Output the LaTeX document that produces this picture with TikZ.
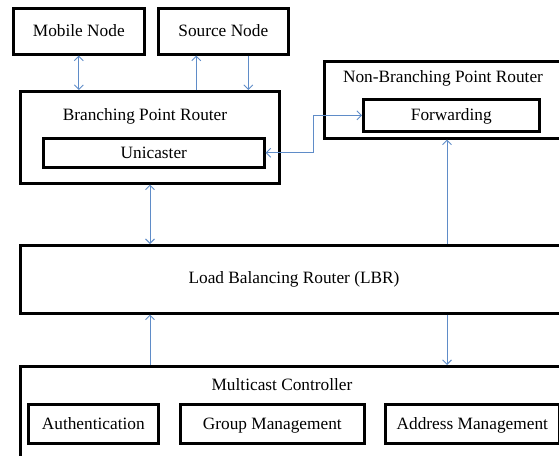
\documentclass[tikz,border=0pt]{standalone}
\usepackage{fontspec}
\setmainfont{Liberation Serif}
\usetikzlibrary{arrows.meta,calc}
\definecolor{arrowblue}{RGB}{95,140,200}
\begin{document}
\begin{tikzpicture}[x=1pt,y=-1pt,
  box/.style={draw=black, line width=2.6pt, inner sep=0pt, anchor=north west,
    text height=14pt, text depth=2.7pt,
    font=\fontsize{17.3}{20}\selectfont},
  title/.style={inner sep=0pt, text height=14pt, text depth=2.7pt,
    font=\fontsize{17.3}{20}\selectfont},
  arr/.style={draw=arrowblue, line width=0.9pt, arrows={-Straight Barb[length=4.5pt,width=9pt]}},
  darr/.style={draw=arrowblue, line width=0.9pt, arrows={Straight Barb[length=4.5pt,width=9pt]-Straight Barb[length=4.5pt,width=9pt]}}]
\useasboundingbox (0,0) rectangle (559,455);
% top nodes
\node[box, minimum width=131pt, minimum height=46pt] (mobile) at (12,7) {Mobile Node};
\node[box, minimum width=130pt, minimum height=46pt] (source) at (157,7) {Source Node};
% branching point router
\node[box, minimum width=259pt, minimum height=92pt] (bpr) at (19,90) {};
\node[title] (bprt) at (145,115) {Branching Point Router};
\node[box, minimum width=221pt, minimum height=29pt] (unicaster) at (42,137) {Unicaster};
% non-branching point router
\node[box, minimum width=240pt, minimum height=77pt] (nbpr) at (323,60) {};
\node[title] (nbprt) at (443,77) {Non-Branching Point Router};
\node[box, minimum width=176pt, minimum height=32pt] (forwarding) at (362,98) {Forwarding};
% load balancing router
\node[box, minimum width=543pt, minimum height=68pt] (lbr) at (19,244) {};
\node[title] (lbrt) at (294,278) {Load Balancing Router (LBR)};
% multicast controller
\node[box, minimum width=543pt, minimum height=100pt] (mc) at (19,365) {};
\node[title] (mct) at (282,385) {Multicast Controller};
\node[box, minimum width=130pt, minimum height=39pt] (auth) at (27,403) {Authentication};
\node[box, minimum width=184pt, minimum height=39pt] (group) at (179,403) {Group Management};
\node[box, minimum width=174pt, minimum height=39pt] (addr) at (384,403) {Address Management};
% helper coordinates
\coordinate (s1) at ($(source.south)+(-27,0)$);
\coordinate (s2) at ($(source.south)+(25,0)$);
\coordinate (bend) at (313,0);
\coordinate (c1) at (150,0);
\coordinate (c2) at (447,0);
% connectors
\draw[darr] (mobile.south) -- (mobile.south |- bpr.north);
\draw[arr] (s1 |- bpr.north) -- (s1);
\draw[arr] (s2) -- (s2 |- bpr.north);
\draw[darr] (unicaster.east) -- (unicaster.east -| bend) -- (bend |- forwarding.west) -- (forwarding.west);
\draw[darr] (c1 |- bpr.south) -- (c1 |- lbr.north);
\draw[arr] (c2 |- lbr.north) -- (c2 |- nbpr.south);
\draw[arr] (c1 |- mc.north) -- (c1 |- lbr.south);
\draw[arr] (c2 |- lbr.south) -- (c2 |- mc.north);
\end{tikzpicture}
\end{document}
